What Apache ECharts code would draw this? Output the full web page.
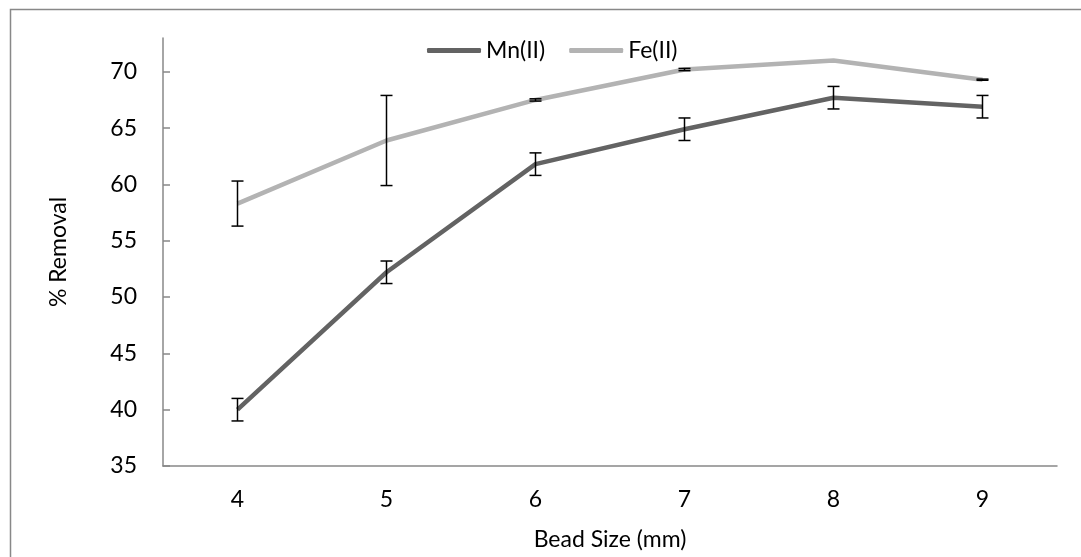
<!DOCTYPE html>
<html>
<head>
<meta charset="utf-8">
<script src="https://cdn.jsdelivr.net/npm/echarts@6/dist/echarts.min.js"></script>
<style>html,body{margin:0;padding:0;background:#fff}#c{width:1081px;height:557px}</style>
</head>
<body>
<div id="c"></div>
<script>
const categories = ['4', '5', '6', '7', '8', '9'];
const mnValues = [40.0, 52.2, 61.8, 64.9, 67.7, 66.9];
const mnErrors = [1.0, 1.0, 1.0, 1.0, 1.0, 1.0];
const feValues = [58.3, 63.9, 67.5, 70.2, 71.0, 69.3];
const feErrors = [2.0, 4.0, 0.1, 0.1, 0.0, 0.05];
const yTicks = [35, 40, 45, 50, 55, 60, 65, 70];

const FONT = 'Lato';
const FS = 23;
const chart = echarts.init(document.getElementById('c'));

function errData(vals, errs) {
  return vals.map((v, i) => [i, v - errs[i], v + errs[i]]);
}
function renderErr(params, api) {
  const x = api.value(0);
  const lo = api.coord([x, api.value(1)]);
  const hi = api.coord([x, api.value(2)]);
  const w = 6;
  const style = { stroke: '#000', lineWidth: 1.5 };
  if (Math.abs(lo[1] - hi[1]) < 0.5) return null;
  return {
    type: 'group',
    children: [
      { type: 'line', shape: { x1: lo[0], y1: lo[1], x2: hi[0], y2: hi[1] }, style },
      { type: 'line', shape: { x1: lo[0] - w, y1: lo[1], x2: lo[0] + w, y2: lo[1] }, style },
      { type: 'line', shape: { x1: hi[0] - w, y1: hi[1], x2: hi[0] + w, y2: hi[1] }, style }
    ]
  };
}

chart.setOption({
  animation: false,
  textStyle: { fontFamily: FONT },
  graphic: [{
    type: 'rect', left: 8, top: 7, shape: { width: 1100, height: 600 },
    style: { fill: 'none', stroke: '#888', lineWidth: 1.5 }, silent: true, z: -1
  }],
  legend: {
    top: 34, left: 422,
    icon: 'roundRect',
    itemWidth: 54, itemHeight: 5, itemGap: 24,
    textStyle: { fontSize: FS, color: '#000', fontFamily: FONT },
    data: ['Mn(II)', 'Fe(II)']
  },
  grid: { left: 163, top: 38, right: 24, bottom: 91 },
  xAxis: {
    type: 'category',
    data: categories,
    name: 'Bead Size (mm)',
    nameLocation: 'middle',
    nameGap: 62,
    nameTextStyle: { fontSize: FS, color: '#000', fontFamily: FONT },
    axisLine: { lineStyle: { color: '#888', width: 1.5 } },
    axisTick: { inside: true, length: 6, lineStyle: { color: '#888', width: 1.5 } },
    axisLabel: { fontSize: FS, color: '#000', margin: 22, fontFamily: FONT },
    splitLine: { show: false }
  },
  yAxis: {
    type: 'value',
    min: 35, max: 73,
    name: '% Removal',
    nameLocation: 'middle',
    nameGap: 93,
    nameTextStyle: { fontSize: FS, color: '#000', fontFamily: FONT },
    axisLine: { show: true, lineStyle: { color: '#888', width: 1.5 } },
    axisTick: { show: true, inside: true, length: 7, customValues: yTicks, lineStyle: { color: '#888', width: 1.5 } },
    axisLabel: { fontSize: FS, color: '#000', margin: 26, customValues: yTicks, fontFamily: FONT },
    splitLine: { show: false }
  },
  series: [
    {
      name: 'Mn(II)', type: 'line', data: mnValues,
      symbol: 'none', lineStyle: { color: '#636363', width: 4.5 }, itemStyle: { color: '#636363' }, z: 2
    },
    {
      name: 'Fe(II)', type: 'line', data: feValues,
      symbol: 'none', lineStyle: { color: '#b3b3b3', width: 4.5 }, itemStyle: { color: '#b3b3b3' }, z: 2
    },
    {
      type: 'custom', name: 'mnErr', data: errData(mnValues, mnErrors),
      renderItem: renderErr, encode: { x: 0, y: [1, 2] }, z: 3, silent: true
    },
    {
      type: 'custom', name: 'feErr', data: errData(feValues, feErrors),
      renderItem: renderErr, encode: { x: 0, y: [1, 2] }, z: 3, silent: true
    }
  ]
});
</script>
</body>
</html>
